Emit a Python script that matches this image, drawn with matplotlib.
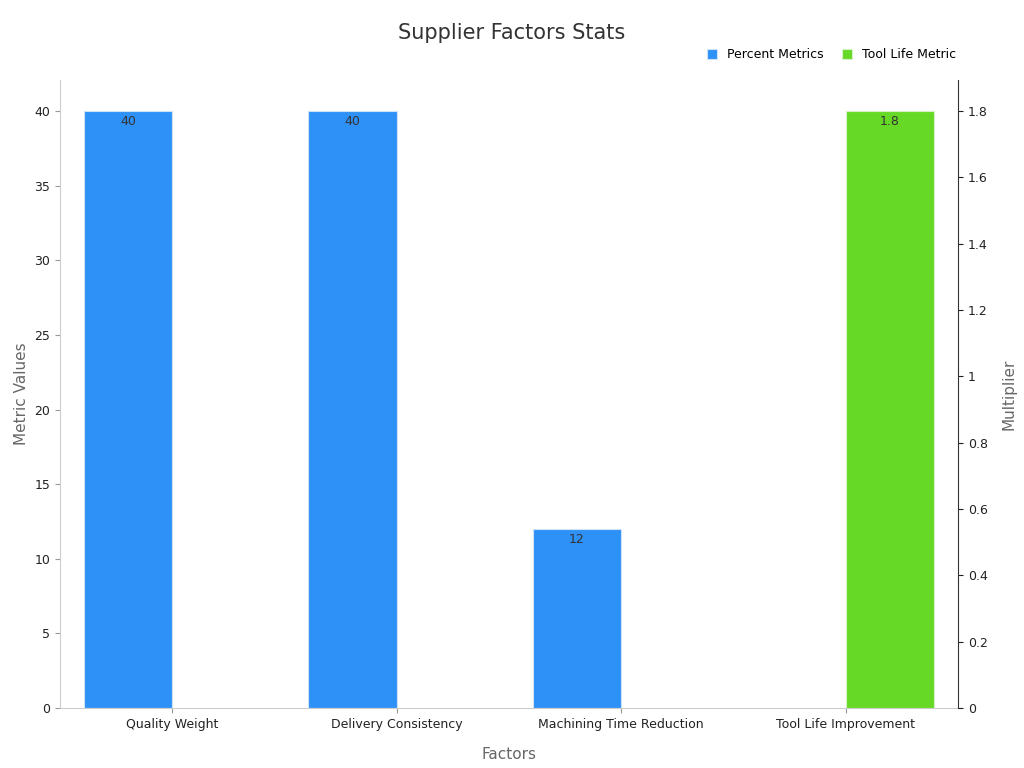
import matplotlib.pyplot as plt
import numpy as np

factors = ["Quality Weight", "Delivery Consistency", "Machining Time Reduction", "Tool Life Improvement"]
percent_vals = [40, 40, 12]
tool_life_vals = [1.8]

blue = "#2e91f8"
green = "#66d926"
x = np.arange(len(factors))
w = 0.395

fig, ax = plt.subplots(figsize=(10.24, 7.68), dpi=100)
fig.subplots_adjust(left=0.0586, right=0.9355, top=0.896, bottom=0.078)
ax2 = ax.twinx()

b1 = ax.bar(x[:3] - w / 2, percent_vals, w, color=blue, edgecolor="#cfe3f7", linewidth=0.8,
            label="Percent Metrics")
b2 = ax2.bar(x[3:] + w / 2, tool_life_vals, w, color=green, edgecolor="#d8f0c8", linewidth=0.8,
             label="Tool Life Metric")

for r, v in zip(b1, percent_vals):
    ax.text(r.get_x() + r.get_width() / 2, v - 0.25, f"{v}", ha="center", va="top",
            fontsize=9, color="#333333")
for r, v in zip(b2, tool_life_vals):
    ax2.text(r.get_x() + r.get_width() / 2, v - 0.011, f"{v}", ha="center", va="top",
             fontsize=9, color="#333333")

ax.set_xlim(-0.5, 3.5)
ax.set_ylim(0, 42.1)
ax2.set_ylim(0, 1.894)
ax.set_yticks(range(0, 41, 5))
ax2.set_yticks(np.arange(0, 1.81, 0.2))
ax2.set_yticklabels(["0", "0.2", "0.4", "0.6", "0.8", "1", "1.2", "1.4", "1.6", "1.8"])
ax.set_xticks(x)
ax.set_xticklabels(factors)

for a in (ax, ax2):
    a.tick_params(labelsize=9, colors="#222222")
    a.spines["top"].set_visible(False)
ax.spines["left"].set_color("#cccccc")
ax.spines["bottom"].set_color("#cccccc")
ax.spines["right"].set_visible(False)
ax2.spines["left"].set_visible(False)
ax2.spines["bottom"].set_visible(False)
ax2.spines["right"].set_color("#333333")
ax.tick_params(axis="both", color="#999999")

ax.set_xlabel("Factors", fontsize=11, color="#666666", labelpad=12)
ax.set_ylabel("Metric Values", fontsize=11, color="#666666")
ax2.set_ylabel("Multiplier", fontsize=11, color="#666666", labelpad=10)
fig.suptitle("Supplier Factors Stats", fontsize=15, color="#333333", y=0.97)

fig.legend(handles=[b1, b2], loc="upper right", bbox_to_anchor=(0.945, 0.952), ncol=2,
           frameon=False, fontsize=9, handlelength=0.8, handleheight=0.8, columnspacing=1.5)

fig.savefig("out.png", dpi=100)
